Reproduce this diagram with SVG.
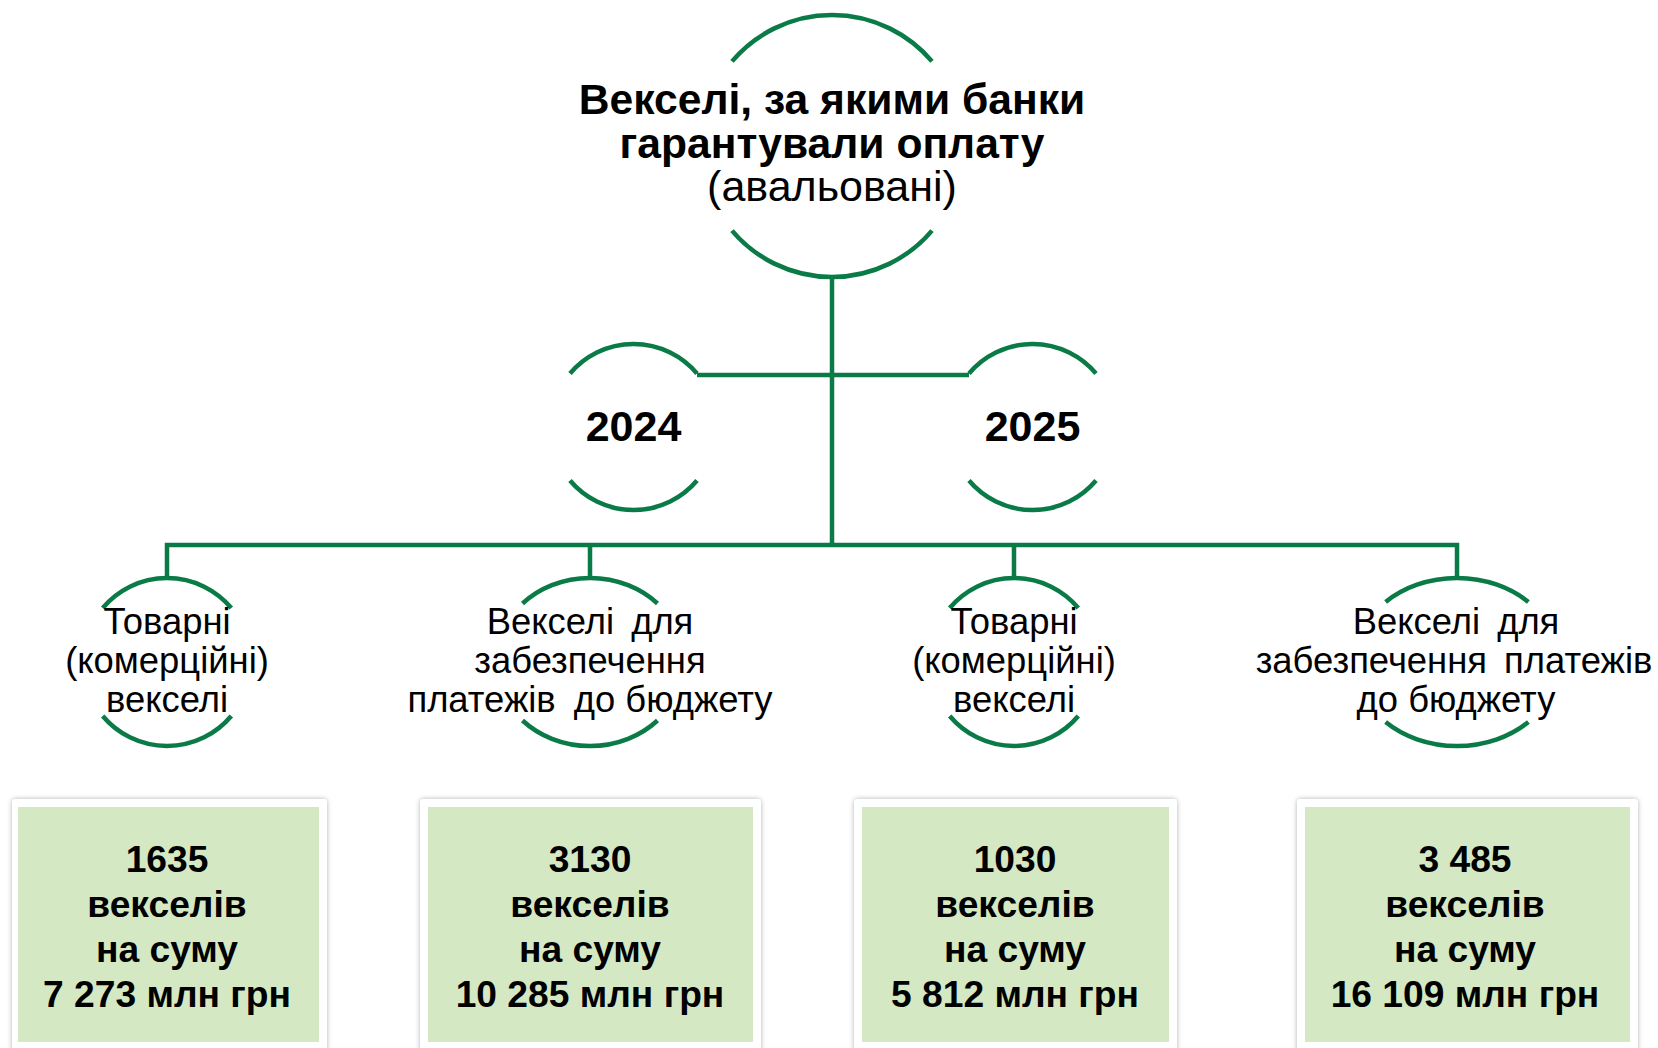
<svg xmlns="http://www.w3.org/2000/svg" width="1658" height="1048" viewBox="0 0 1658 1048">
<defs>
<style>
.arc{fill:none;stroke:#0A7B47;stroke-width:4.5}
.con{fill:none;stroke:#0A7B47;stroke-width:4.5}
.t{font-family:"Liberation Sans",Arial,sans-serif;fill:#000;text-anchor:middle}
.b{font-weight:bold}
.title{font-size:42.6px}
.sub{font-size:43px}
.yr{font-size:43px;font-weight:bold}
.lbl{font-size:36.4px}
.ws{word-spacing:7px}
.num{font-size:37.2px;font-weight:bold}
.card{fill:#fff}
.green{fill:#D4E9C3}
</style>
<filter id="sh" x="-10%" y="-10%" width="120%" height="120%">
<feDropShadow dx="0" dy="0" stdDeviation="2.5" flood-color="#000" flood-opacity="0.3"/>
</filter>
</defs>
<rect width="1658" height="1048" fill="#fff"/>

<g id="connectors">
<path class="con" d="M832 277V545"/>
<path class="con" d="M697 375H969"/>
<path class="con" d="M167 578V545H1457V578"/>
<path class="con" d="M590 545V578"/>
<path class="con" d="M1014 545V578"/>
</g>

<g id="root">
<path class="arc" d="M732 61.4A131 131 0 0 1 932 61.4"/>
<path class="arc" d="M732 230.6A131 131 0 0 0 932 230.6"/>
<text class="t title b" x="832" y="114">Векселі, за якими банки</text>
<text class="t title b" x="832" y="158">гарантували оплату</text>
<text class="t sub" x="832" y="201">(авальовані)</text>
</g>

<g id="y2024">
<path class="arc" d="M570 373.5A83 83 0 0 1 697 373.5"/>
<path class="arc" d="M570 480.5A83 83 0 0 0 697 480.5"/>
<text class="t yr" x="633.5" y="441">2024</text>
</g>

<g id="y2025">
<path class="arc" d="M969 373.5A83 83 0 0 1 1096 373.5"/>
<path class="arc" d="M969 480.5A83 83 0 0 0 1096 480.5"/>
<text class="t yr" x="1032.5" y="441">2025</text>
</g>

<g id="n1">
<path class="arc" d="M102.7 608A84 84 0 0 1 231.3 608"/>
<path class="arc" d="M102.7 716A84 84 0 0 0 231.3 716"/>
<text class="t lbl" x="167" y="634">Товарні</text>
<text class="t lbl" x="167" y="673">(комерційні)</text>
<text class="t lbl" x="167" y="712">векселі</text>
</g>

<g id="n2">
<path class="arc" d="M522.5 603.5A94 84 0 0 1 657.5 603.5"/>
<path class="arc" d="M522.5 720.5A94 84 0 0 0 657.5 720.5"/>
<text class="t lbl ws" x="590" y="634">Векселі для</text>
<text class="t lbl" x="590" y="673">забезпечення</text>
<text class="t lbl" x="590" y="712">платежів <tspan dx="8">до бюджету</tspan></text>
</g>

<g id="n3">
<path class="arc" d="M949.7 608A84 84 0 0 1 1078.3 608"/>
<path class="arc" d="M949.7 716A84 84 0 0 0 1078.3 716"/>
<text class="t lbl" x="1014" y="634">Товарні</text>
<text class="t lbl" x="1014" y="673">(комерційні)</text>
<text class="t lbl" x="1014" y="712">векселі</text>
</g>

<g id="n4">
<path class="arc" d="M1385.6 602A102 84 0 0 1 1528.4 602"/>
<path class="arc" d="M1385.6 722A102 84 0 0 0 1528.4 722"/>
<text class="t lbl ws" x="1456" y="634">Векселі для</text>
<text class="t lbl ws" x="1454" y="673">забезпечення платежів</text>
<text class="t lbl" x="1456" y="712">до бюджету</text>
</g>

<g id="box1">
<rect class="card" x="12" y="799" width="315" height="270" rx="4" filter="url(#sh)"/>
<rect class="green" x="18" y="807" width="301" height="235"/>
<text class="t num" x="167" y="872">1635</text>
<text class="t num" x="167" y="917">векселів</text>
<text class="t num" x="167" y="962">на суму</text>
<text class="t num" x="167" y="1007">7 273 млн грн</text>
</g>

<g id="box2">
<rect class="card" x="420" y="799" width="341" height="270" rx="4" filter="url(#sh)"/>
<rect class="green" x="428" y="807" width="325" height="235"/>
<text class="t num" x="590" y="872">3130</text>
<text class="t num" x="590" y="917">векселів</text>
<text class="t num" x="590" y="962">на суму</text>
<text class="t num" x="590" y="1007">10 285 млн грн</text>
</g>

<g id="box3">
<rect class="card" x="854" y="799" width="323" height="270" rx="4" filter="url(#sh)"/>
<rect class="green" x="862" y="807" width="307" height="235"/>
<text class="t num" x="1015" y="872">1030</text>
<text class="t num" x="1015" y="917">векселів</text>
<text class="t num" x="1015" y="962">на суму</text>
<text class="t num" x="1015" y="1007">5 812 млн грн</text>
</g>

<g id="box4">
<rect class="card" x="1297" y="799" width="341" height="270" rx="4" filter="url(#sh)"/>
<rect class="green" x="1305" y="807" width="325" height="235"/>
<text class="t num" x="1465" y="872">3 485</text>
<text class="t num" x="1465" y="917">векселів</text>
<text class="t num" x="1465" y="962">на суму</text>
<text class="t num" x="1465" y="1007">16 109 млн грн</text>
</g>
</svg>
